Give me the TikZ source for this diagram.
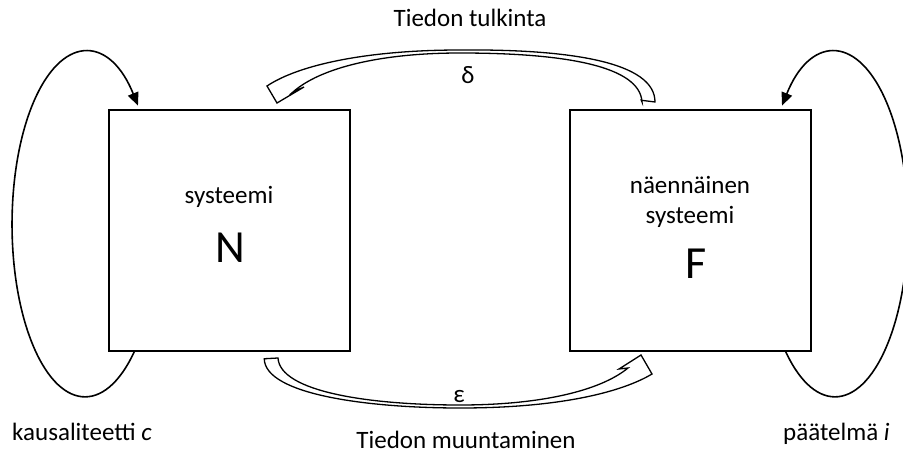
\documentclass[tikz,border=0pt]{standalone}
\usepackage{fontspec}
\setmainfont{Carlito}
\usetikzlibrary{arrows.meta}

\tikzset{
  box/.style={draw, line width=1.5pt, minimum width=241pt, minimum height=241pt, inner sep=0pt},
  lbl/.style={font=\fontsize{25}{30}\selectfont, inner sep=0pt, anchor=base},
  big/.style={font=\fontsize{46}{55}\selectfont, inner sep=0pt, anchor=base},
  selfloop/.style={line width=1.6pt, -{Triangle[length=13pt,width=11pt]}},
  hollow/.style={draw, line width=1.3pt, fill=white, line join=miter},
}

\begin{document}
\begin{tikzpicture}[x=1pt,y=-1pt]
  \useasboundingbox (0,0) rectangle (903,455);

  %Define nodes
  \node[box] (N) at (229.5,230.5) {};
  \node[box] (F) at (690.5,230.5) {};
  \node[lbl] (Nname) at (229,203) {systeemi};
  \node[big] (Nsym) at (230,262) {N};
  \node[lbl] (Fname) at (690,193) {näennäinen};
  \node[lbl] (Fname2) at (690,223) {systeemi};
  \node[big] (Fsym) at (696,278) {F};
  \node[lbl] (delta) at (468,83) {δ};
  \node[lbl] (eps) at (459,402) {ε};
  \node[lbl] (tulk) at (470,26) {Tiedon tulkinta};
  \node[lbl] (muunt) at (466,448) {Tiedon muuntaminen};
  \node[lbl, anchor=base west] (kaus) at (12,440) {kausaliteetti \textit{c}};
  \node[lbl, anchor=base west] (paat) at (783,440) {päätelmä \textit{i}};

  % Connect the nodes
  \draw[selfloop] ([xshift=26pt]N.south west)
    arc[start angle=-47.6, end angle=-316.5, x radius=73pt, y radius=172.5pt];
  \draw[selfloop] ([xshift=-26pt]F.south east)
    arc[start angle=227.6, end angle=496.5, x radius=73pt, y radius=172.5pt];

  % hollow arrows between the systems
  \draw[hollow] ([xshift=72pt,yshift=9pt]F.north west) -- (655,102)
    .. controls (655,62) and (570,49) .. (460,50)
    .. controls (370,50) and (300,64) .. (267,86)
    -- (277,103) -- (304,87) -- (293,92)
    .. controls (320,68) and (380,53) .. (460,53)
    .. controls (565,53) and (640,66) .. (642,102) -- cycle;
  \draw[hollow] ([xshift=156pt,yshift=-7pt]N.south west)
    .. controls (265,395) and (370,408) .. (460,408)
    .. controls (560,408) and (622,392) .. (652,374)
    -- (641,355) -- (619,369) -- (628,368)
    .. controls (600,391) and (540,405) .. (460,405)
    .. controls (370,405) and (280,392) .. (278,358) -- cycle;

\end{tikzpicture}
\end{document}
